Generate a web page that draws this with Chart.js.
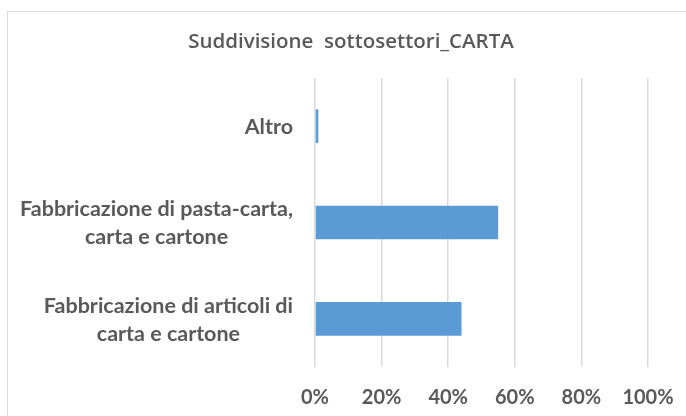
<!DOCTYPE html>
<html>
<head>
<meta charset="utf-8">
<script src="https://cdn.jsdelivr.net/npm/chart.js@4/dist/chart.umd.min.js"></script>
<style>
  html, body { margin: 0; padding: 0; background: #ffffff; }
  #wrap { width: 686px; height: 416px; position: relative; }
</style>
</head>
<body>
<div id="wrap"><canvas id="c" width="686" height="416"></canvas></div>
<script>
// Sub-sector split of the paper sector (share of total)
const chartTitle = 'Suddivisione  sottosettori_CARTA';
const categories = [
  ['Altro'],
  ['Fabbricazione di pasta-carta,', 'carta e cartone'],
  ['Fabbricazione di articoli di', 'carta e cartone']
];
const shares = [0.01, 0.55, 0.44];
const xTicks = [0, 0.2, 0.4, 0.6, 0.8, 1.0];

const FONT = 'Lato, "Open Sans", sans-serif';
const TITLE_FONT = '"Open Sans", Lato, sans-serif';
const TEXT = '#595959';

// Frame around the chart and a white background
const framePlugin = {
  id: 'frame',
  beforeDraw(chart) {
    const ctx = chart.ctx;
    ctx.save();
    ctx.fillStyle = '#ffffff';
    ctx.fillRect(0, 0, chart.width, chart.height);
    ctx.strokeStyle = '#d9d9d9';
    ctx.lineWidth = 1;
    ctx.strokeRect(7.5, 11.5, chart.width + 20, chart.height + 20);
    ctx.restore();
  },
  // the title is centred over the whole frame, not only the plot area
  afterLayout(chart) {
    if (chart.titleBlock) {
      chart.titleBlock.left = 16;
      chart.titleBlock.right = 686;
    }
  }
};

// Category labels: each block right-aligned to the axis, lines centred within the block
const catLabelPlugin = {
  id: 'catLabels',
  afterDraw(chart) {
    const ctx = chart.ctx;
    const yScale = chart.scales.y;
    const right = chart.chartArea.left - 22;
    const lh = 28;
    ctx.save();
    ctx.font = 'bold 21.5px ' + FONT;
    ctx.fillStyle = TEXT;
    ctx.textAlign = 'center';
    ctx.textBaseline = 'middle';
    categories.forEach((lines, i) => {
      const yc = yScale.getPixelForTick(i) + 1;
      const w = Math.max(...lines.map(l => ctx.measureText(l).width));
      const cx = right - w / 2;
      lines.forEach((line, j) => {
        ctx.fillText(line, cx, yc + (j - (lines.length - 1) / 2) * lh);
      });
    });
    ctx.restore();
  }
};

new Chart(document.getElementById('c'), {
  type: 'bar',
  data: {
    labels: categories,
    datasets: [{
      data: shares,
      backgroundColor: '#5b9bd5',
      borderWidth: 0,
      categoryPercentage: 1,
      barPercentage: 0.35
    }]
  },
  options: {
    indexAxis: 'y',
    responsive: false,
    animation: false,
    layout: { padding: { left: 6, right: 38, top: 11, bottom: 6 } },
    plugins: {
      legend: { display: false },
      tooltip: { enabled: false },
      title: {
        display: true,
        text: chartTitle,
        color: TEXT,
        font: { family: TITLE_FONT, size: 20.5, weight: 600 },
        padding: { top: 19, bottom: 23.4 }
      }
    },
    scales: {
      x: {
        min: 0,
        max: 1,
        afterBuildTicks(scale) {
          scale.ticks = xTicks.map(v => ({ value: v }));
        },
        afterFit(scale) {
          scale.height = 43;
          scale.paddingRight = 26;
        },
        grid: { color: '#d9d9d9', lineWidth: 1.5, drawTicks: false },
        border: { display: false },
        ticks: {
          color: TEXT,
          padding: 19,
          font: { family: FONT, size: 20, weight: 'bold' },
          callback: v => Math.round(v * 100) + '%'
        }
      },
      y: {
        afterFit(scale) { scale.width = 309; },
        grid: { display: false },
        border: { display: false },
        ticks: { display: false }
      }
    }
  },
  plugins: [framePlugin, catLabelPlugin]
});
</script>
</body>
</html>
